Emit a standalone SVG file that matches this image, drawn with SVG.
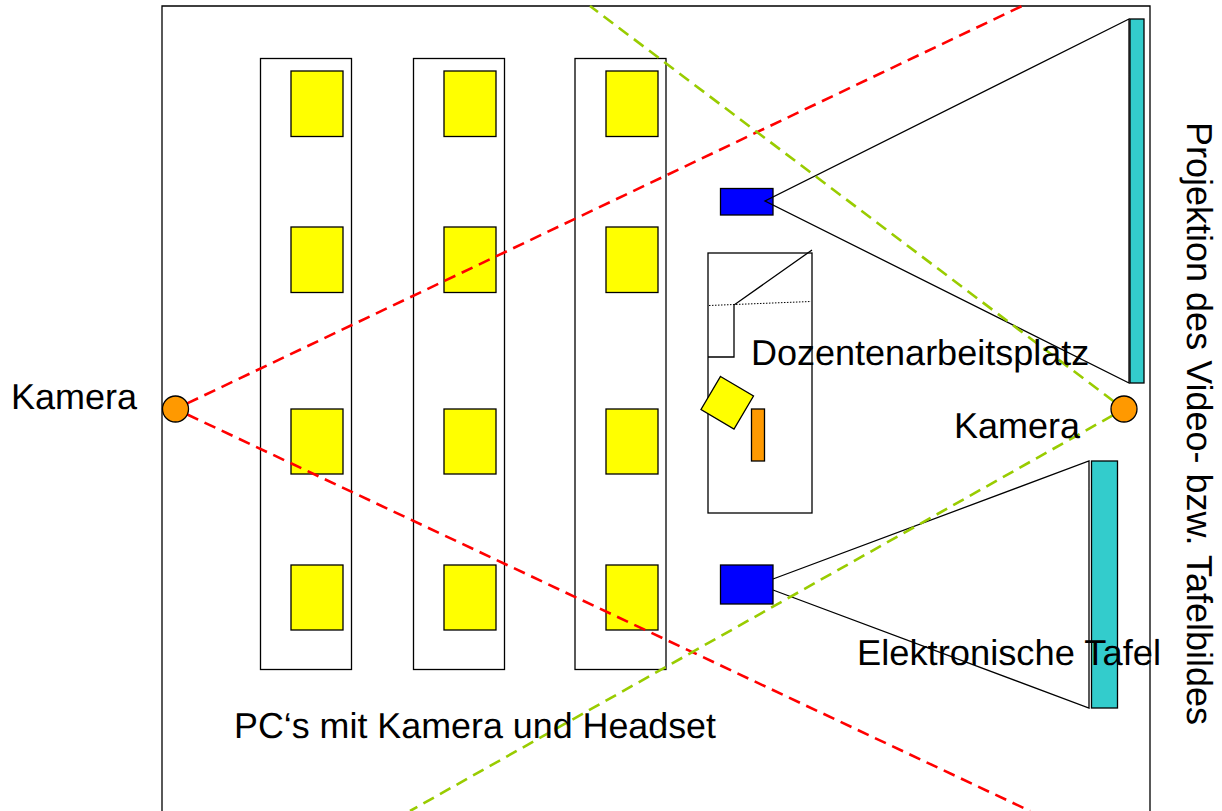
<svg xmlns="http://www.w3.org/2000/svg" width="1222" height="811" viewBox="0 0 1222 811">
<style>
.l{fill:none;stroke:#000;stroke-width:1.3}
.pc{fill:#ff0;stroke:#000;stroke-width:1.3}
.b{fill:#00f;stroke:#000;stroke-width:1.3}
.t{fill:#3cc;stroke:#000;stroke-width:1.3}
.o{fill:#f90;stroke:#000;stroke-width:1.3}
.r{fill:none;stroke:#f00;stroke-width:2.6;stroke-dasharray:12 7}
.g{fill:none;stroke:#9c0;stroke-width:2.6;stroke-dasharray:12 7}
text{font-family:"Liberation Sans",Arial,sans-serif;font-size:36px;fill:#000;text-rendering:geometricPrecision}
</style>
<g id="room"><path class="l" d="M162 811V6H1150V811"/></g>
<g id="row-1"><rect class="l" x="260.500" y="58.500" width="91" height="611"/></g>
<g id="row-2"><rect class="l" x="413.500" y="58.500" width="91" height="611"/></g>
<g id="row-3"><rect class="l" x="575" y="58.500" width="91" height="611"/></g>
<g id="pc-1-1"><rect class="pc" x="291" y="71" width="52" height="65.500"/></g>
<g id="pc-1-2"><rect class="pc" x="291" y="227" width="52" height="65.500"/></g>
<g id="pc-1-3"><rect class="pc" x="291" y="409" width="52" height="65"/></g>
<g id="pc-1-4"><rect class="pc" x="291" y="565" width="52" height="65"/></g>
<g id="pc-2-1"><rect class="pc" x="444" y="71" width="52" height="65.500"/></g>
<g id="pc-2-2"><rect class="pc" x="444" y="227" width="52" height="65.500"/></g>
<g id="pc-2-3"><rect class="pc" x="444" y="409" width="52" height="65"/></g>
<g id="pc-2-4"><rect class="pc" x="444" y="565" width="52" height="65"/></g>
<g id="pc-3-1"><rect class="pc" x="606" y="71" width="52" height="65.500"/></g>
<g id="pc-3-2"><rect class="pc" x="606" y="227" width="52" height="65.500"/></g>
<g id="pc-3-3"><rect class="pc" x="606" y="409" width="52" height="65"/></g>
<g id="pc-3-4"><rect class="pc" x="606" y="565" width="52" height="65"/></g>
<g id="projector-top"><rect class="b" x="720.500" y="188.500" width="52.500" height="26.500"/></g>
<g id="projector-bottom"><rect class="b" x="720.500" y="565" width="52.500" height="39"/></g>
<g id="desk">
<rect class="l" x="708" y="253" width="104" height="260"/>
<path class="l" d="M812 250L734 305V357H708"/>
<path fill="none" stroke="#000" stroke-width="1" stroke-dasharray="1.500 1.500" d="M709 305.500L811 301.500"/>
<path class="pc" d="M720.500 376.500L753.500 396L734 429L701 409.500Z"/>
<rect class="o" x="751.500" y="409" width="13" height="52"/>
</g>
<g id="screen-top"><rect class="t" x="1130" y="19" width="14" height="364"/></g>
<g id="screen-bottom"><rect class="t" x="1091.500" y="461" width="26" height="247"/></g>
<g id="connectors">
<path class="l" d="M1129 19L765 201L1129 383Z"/>
<path class="l" d="M773 579L1089 461V708L773 590"/>
<path class="r" d="M187.200 403.400L1022 6"/>
<path class="r" d="M187.300 414.500L1030 811"/>
<path class="g" d="M1113.600 401.200L590 6"/>
<path class="g" d="M1112.700 415.400L410 811"/>
</g>
<g id="camera-left"><circle class="o" cx="175.500" cy="409" r="13"/></g>
<g id="camera-right"><circle class="o" cx="1124" cy="409" r="13"/></g>
<g id="labels">
<text x="11" y="409">Kamera</text>
<text x="954" y="438">Kamera</text>
<text x="751" y="365">Dozentenarbeitsplatz</text>
<text x="857" y="665" textLength="304" lengthAdjust="spacingAndGlyphs">Elektronische Tafel</text>
<text x="234" y="738" textLength="482" lengthAdjust="spacingAndGlyphs">PC‘s mit Kamera und Headset</text>
<text transform="translate(1187 122) rotate(90)">Projektion des Video- bzw. Tafelbildes</text>
</g>
</svg>
